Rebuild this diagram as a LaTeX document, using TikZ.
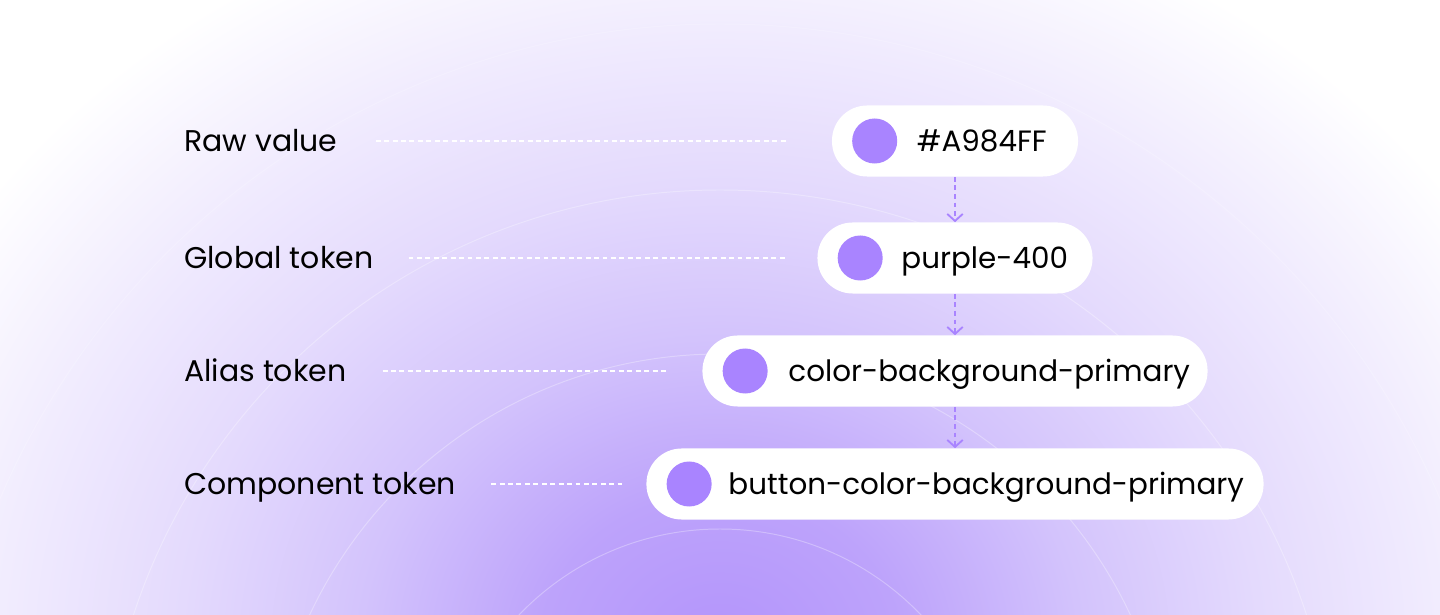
\documentclass[tikz,border=0pt]{standalone}
\usepackage{fontspec}
\setmainfont{Poppins}
\usetikzlibrary{arrows.meta,calc,positioning}
\definecolor{tokenpurple}{HTML}{A984FF}
\definecolor{glowa}{HTML}{B394FB}
\definecolor{glowb}{HTML}{BDA3FB}
\definecolor{glowc}{HTML}{D3C3FC}
\definecolor{glowd}{HTML}{E4DAFD}
\definecolor{glowe}{HTML}{F1ECFE}
\pgfdeclareradialshading{bgglow}{\pgfpoint{0bp}{0bp}}{color(0bp)=(glowa); color(5bp)=(glowb); color(10bp)=(glowc); color(15bp)=(glowd); color(20bp)=(glowe); color(25bp)=(white); color(50bp)=(white)}
\begin{document}
\begin{tikzpicture}
[x=0.025cm,y=-0.025cm,
pill/.style={fill=white,rounded corners=0.88cm,minimum height=1.775cm,inner sep=0pt},
dot/.style={circle,fill=tokenpurple,minimum size=1.125cm,inner sep=0pt},
tokentext/.style={anchor=base west,inner sep=0pt,font=\fontsize{20.9}{26}\selectfont},
rowlabel/.style={anchor=base west,inner sep=0pt,font=\fontsize{21.3}{26}\selectfont},
guide/.style={white,line width=1.4pt,dash pattern=on 3.5pt off 2.5pt},
ring/.style={white,opacity=0.3,line width=0.7pt},
flow/.style={tokenpurple,line width=1.3pt,dash pattern=on 3.5pt off 2.6pt,-{Straight Barb[length=5pt,width=11pt]}}]
% background glow and rings
\fill[white] (0,0) rectangle (1440,615);
\begin{scope}
  \clip (0,0) rectangle (1440,615);
  \shade[shading=bgglow] (720,650) ellipse (900 and 780);
  \foreach \r in {278,453,617}
    \draw[ring] (720,807) circle (\r);
  \draw[ring,opacity=0.2] (720,807) circle (783);
\end{scope}
\useasboundingbox (0,0) rectangle (1440,615);
% token pills
\node[pill,minimum width=6.15cm] (pill1) at (955,141) {};
\node[pill,minimum width=6.875cm] (pill2) at (955,258) {};
\node[pill,minimum width=12.625cm] (pill3) at (955,371) {};
\node[pill,minimum width=15.425cm] (pill4) at (955,484) {};
\node[dot] (dot1) at ($(pill1.west)+(43,0)$) {};
\node[dot] (dot2) at ($(pill2.west)+(43,0)$) {};
\node[dot] (dot3) at ($(pill3.west)+(43,0)$) {};
\node[dot] (dot4) at ($(pill4.west)+(43,0)$) {};
\node[tokentext] (hex) at ($(pill1.west)+(85,11)$) {\#A984FF};
\node[tokentext] (global) at ($(pill2.west)+(84,11)$) {purple-400};
\node[tokentext] (alias) at ($(pill3.west)+(86,11)$) {color-background-primary};
\node[tokentext] (component) at ($(pill4.west)+(82,11)$) {button-color-background-primary};
% row labels
\node[rowlabel] (raw) at (184,152) {Raw value};
\node[rowlabel] (glabel) at (184,269) {Global token};
\node[rowlabel] (alabel) at (184,382) {Alias token};
\node[rowlabel] (clabel) at (184,495) {Component token};
\coordinate (g1) at (raw.east |- pill1.west);
\coordinate (g2) at (glabel.east |- pill2.west);
\coordinate (g3) at (alabel.east |- pill3.west);
\coordinate (g4) at (clabel.east |- pill4.west);
\draw[guide] ($(g1)+(38,0)$) -- ($(pill1.west)+(-45,0)$);
\draw[guide] ($(g2)+(35,0)$) -- ($(pill2.west)+(-31,0)$);
\draw[guide] ($(g3)+(36,0)$) -- ($(pill3.west)+(-35,0)$);
\draw[guide] ($(g4)+(35,0)$) -- ($(pill4.west)+(-24,0)$);
% references
\draw[flow] (pill1.south) -- (pill2.north);
\draw[flow] (pill2.south) -- (pill3.north);
\draw[flow] (pill3.south) -- (pill4.north);
\end{tikzpicture}
\end{document}
